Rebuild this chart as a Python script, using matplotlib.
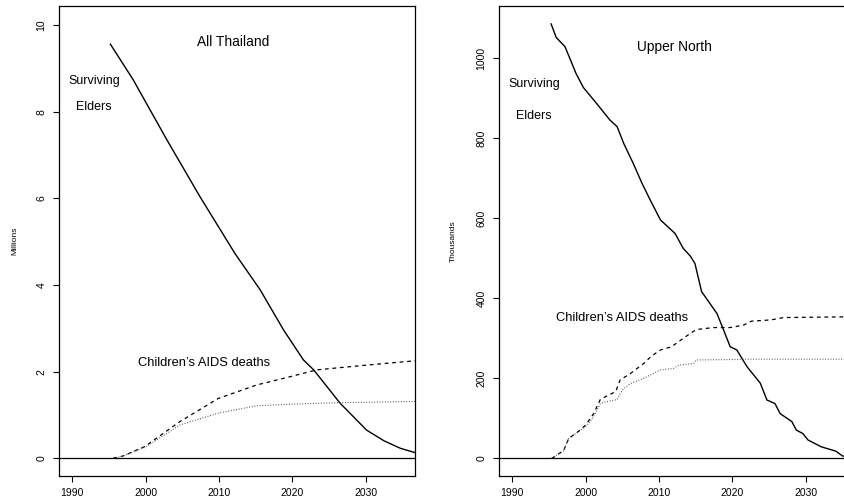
import numpy as np
import matplotlib
matplotlib.use("Agg")
import matplotlib.pyplot as plt

plt.rcParams['font.family'] = ['Liberation Sans', 'DejaVu Sans']

# All Thailand (millions)
th_elder_yr = [1995.2, 1998.3, 2002.9, 2007.4, 2012.2, 2015.6, 2018.8, 2021.5, 2022.9,
               2026.5, 2030.1, 2032.5, 2034.7, 2036.7]
th_elder = [9.56, 8.74, 7.35, 6.04, 4.72, 3.89, 2.96, 2.27, 2.04,
            1.27, 0.65, 0.40, 0.23, 0.13]
th_dash_yr = [1995.6, 1996.9, 1999.9, 2004.7, 2009.9, 2015.1, 2020.1, 2023.3, 2030.1, 2036.7]
th_dash = [0.0, 0.05, 0.27, 0.85, 1.38, 1.69, 1.90, 2.04, 2.15, 2.25]
th_dot_yr = [1995.6, 1996.9, 1999.9, 2004.7, 2009.9, 2015.1, 2020.1, 2025.6, 2036.7]
th_dot = [0.0, 0.05, 0.25, 0.77, 1.04, 1.21, 1.25, 1.28, 1.31]

# Upper North (thousands)
un_elder_yr = [1995.3, 1996.0, 1997.2, 1998.7, 1999.7, 2001.5, 2003.3, 2004.3, 2005.2,
               2006.5, 2007.7, 2008.8, 2010.2, 2012.2, 2013.3, 2014.3, 2014.9, 2015.8,
               2017.9, 2018.8, 2019.7, 2020.6, 2022.0, 2023.8, 2024.7, 2025.8, 2026.5,
               2028.1, 2028.7, 2029.6, 2030.3, 2032.1, 2034.1, 2035.0, 2036.7]
un_elder = [1086, 1052, 1029, 962, 927, 887, 846, 829, 787,
            737, 687, 646, 596, 562, 525, 505, 487, 417,
            362, 321, 279, 271, 229, 188, 146, 137, 112,
            92, 71, 62, 46, 29, 18, 6, 2]
un_dash_yr = [1995.4, 1996.3, 1997.0, 1997.7, 1998.8, 2000.0, 2001.1, 2002.0, 2002.7,
              2004.1, 2004.7, 2006.1, 2007.9, 2009.0, 2010.2, 2011.7, 2013.3, 2014.4,
              2015.1, 2017.4, 2019.7, 2021.5, 2022.6, 2025.2, 2027.0, 2036.7]
un_dash = [0, 11, 19, 50, 64, 83, 112, 147, 154,
           167, 196, 212, 237, 256, 271, 279, 300, 314,
           322, 327, 327, 333, 343, 346, 352, 354]
un_dot_yr = [1995.4, 1996.3, 1997.0, 1997.7, 1998.8, 2000.0, 2001.1, 2002.0, 2002.9,
             2004.3, 2005.0, 2006.1, 2007.9, 2010.2, 2012.0, 2012.7, 2014.7, 2015.1,
             2019.7, 2022.0, 2036.7]
un_dot = [0, 11, 19, 50, 64, 79, 104, 137, 142,
          147, 171, 187, 200, 221, 225, 233, 237, 246,
          247, 248, 248]

xticks = [1990, 2000, 2010, 2020, 2030]

fig = plt.figure(figsize=(8.44, 5.03), dpi=100)
ax1 = fig.add_axes([0.0699, 0.0537, 0.4218, 0.9334])
ax2 = fig.add_axes([0.5912, 0.0537, 0.4218, 0.9334])

panels = [
    (ax1, th_elder_yr, th_elder, th_dash_yr, th_dash, th_dot_yr, th_dot,
     (-0.41, 10.43), [0, 2, 4, 6, 8, 10], "Millions", -0.113),
    (ax2, un_elder_yr, un_elder, un_dash_yr, un_dash, un_dot_yr, un_dot,
     (-44, 1129.5), [0, 200, 400, 600, 800, 1000], "Thousands", -0.1185),
]

for ax, ey, ev, dy, dv, oy, ov, ylim, yt, ylab, labx in panels:
    ax.plot(ey, ev, color='black', lw=1.0)
    ax.plot(dy, dv, color='black', lw=0.9, dashes=(3, 3))
    ax.plot(oy, ov, color='#444444', lw=0.8, dashes=(0.8, 1.6))
    ax.axhline(0, color='black', lw=0.9)
    ax.set_xlim(1988.2, 2036.7)
    ax.set_ylim(*ylim)
    ax.set_xticks(xticks)
    ax.set_yticks(yt)
    ax.tick_params(length=4, width=0.8, labelsize=7.5, direction='out')
    ax.tick_params(axis='x', pad=5)
    ax.tick_params(axis='y', pad=5, labelrotation=90)
    for lab in ax.get_yticklabels():
        lab.set_va('center')
    for s in ax.spines.values():
        s.set_linewidth(0.9)
    ax.set_ylabel(ylab, fontsize=6)
    ax.yaxis.set_label_coords(labx, 0.5)


def ftext(x, y, s, size):
    # place text by pixel position measured from the top-left of the figure
    fig.text(x / 844, 1 - y / 503, s, fontsize=size, ha='center', va='center')


ftext(233, 42, "All Thailand", 9.9)
ftext(94, 81, "Surviving", 9)
ftext(94, 107, "Elders", 9)
ftext(204, 363, "Children\u2019s AIDS deaths", 9.3)
ftext(674, 47, "Upper North", 9.9)
ftext(534, 84, "Surviving", 9)
ftext(534, 116, "Elders", 9)
ftext(622, 318, "Children\u2019s AIDS deaths", 9.3)

fig.savefig("out.png", dpi=100)
